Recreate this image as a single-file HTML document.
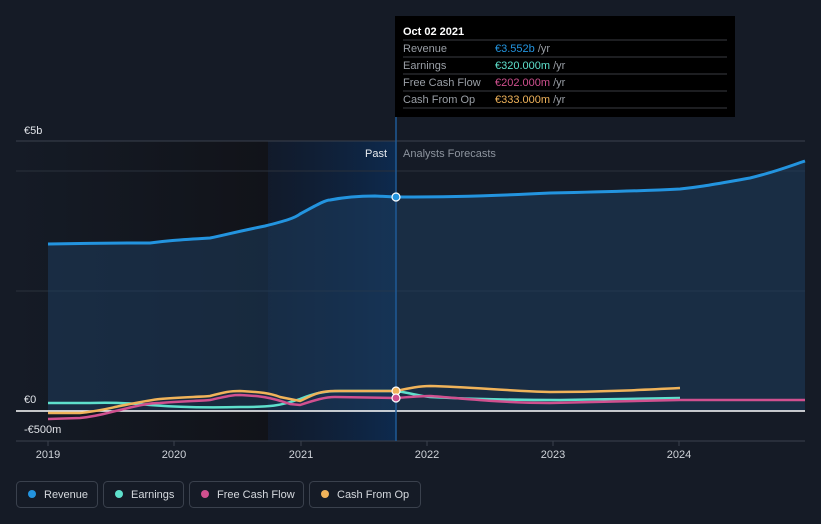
<!DOCTYPE html>
<html><head><meta charset="utf-8"><style>
body{margin:0;background:#151b26;}
svg{display:block;font-family:"Liberation Sans",sans-serif;}
</style></head><body>
<svg width="821" height="524" viewBox="0 0 821 524">
<defs>
<linearGradient id="pastbg" x1="0" x2="1" y1="0" y2="0">
<stop offset="0" stop-color="#0f1a2e" stop-opacity="0.6"/><stop offset="1" stop-color="#0d2a4e"/>
</linearGradient>
<linearGradient id="dark" x1="0" x2="1"><stop offset="0" stop-color="#151b26"/><stop offset="1" stop-color="#111319"/></linearGradient>
</defs>
<rect width="821" height="524" fill="#151b26"/>
<rect x="16" y="141" width="252" height="300" fill="url(#dark)"/>
<rect x="268" y="141" width="128" height="300" fill="url(#pastbg)"/>
<line x1="16" y1="141" x2="805" y2="141" stroke="#3a414d"/>
<line x1="16" y1="171" x2="805" y2="171" stroke="#2a313c"/>
<line x1="16" y1="291" x2="805" y2="291" stroke="#2a313c"/>
<line x1="16" y1="441" x2="805" y2="441" stroke="#3a414d"/>
<!-- revenue area -->
<path d="M48,244 C100,243 140,243 150,243 C165,241 175,240 210,238 C225,235 235,232 265,226 C285,221 295,218 300,214 C315,206 325,200 330,200 C345,197 360,196 375,196 L396,197 C430,197 470,197 550,193 C600,192 640,191 680,189 C700,187 710,185 750,178 C775,172 790,166 805,161 L805,411 L48,411 Z" fill="#1d3d5c" fill-opacity="0.55"/>
<path d="M48,244 C100,243 140,243 150,243 C165,241 175,240 210,238 C225,235 235,232 265,226 C285,221 295,218 300,214 C315,206 325,200 330,200 C345,197 360,196 375,196 L396,197 C430,197 470,197 550,193 C600,192 640,191 680,189 C700,187 710,185 750,178 C775,172 790,166 805,161" fill="none" stroke="#2394df" stroke-width="3"/>
<line x1="16" y1="411" x2="805" y2="411" stroke="#ffffff" stroke-width="1.5"/>
<!-- earnings -->
<path d="M48,403 L90,403 C120,402 140,404 150,405 C175,407 200,408 240,407 C270,407 280,406 300,399 C315,393 325,391 340,391 L396,391 C410,393 420,396 430,397 C470,399 520,400 560,400 L680,398" fill="none" stroke="#5ee0cc" stroke-width="2.5"/>
<!-- fcf -->
<path d="M48,419 L80,418 C100,416 110,412 120,410 C140,405 150,403 160,403 C180,401 200,401 210,400 C225,397 230,395 240,395 C260,396 270,397 290,404 L300,405 C315,400 325,397 335,397 L396,398 C410,397 420,396 430,396 C460,398 500,403 550,403 C600,402 640,401 680,400 L805,400" fill="none" stroke="#d0508f" stroke-width="2.5"/>
<!-- cfo -->
<path d="M48,413 L80,413 C100,411 110,408 120,406 C140,402 150,400 160,399 C180,397 200,397 210,396 C225,392 230,391 240,391 C260,392 270,393 280,397 L300,401 C315,394 320,391 335,391 L396,391 C410,388 420,386 430,386 C470,387 510,391 550,392 C600,392 640,390 680,388" fill="none" stroke="#f0b35a" stroke-width="2.5"/>
<line x1="396" y1="116" x2="396" y2="441" stroke="#1f5a96" stroke-width="1.5"/>
<circle cx="396" cy="197" r="4" fill="#2394df" stroke="#fff" stroke-width="1.2"/>
<circle cx="396" cy="391" r="4" fill="#f0b35a" stroke="#fff" stroke-width="1.2"/>
<circle cx="396" cy="398" r="4" fill="#d0508f" stroke="#fff" stroke-width="1.2"/>
<text x="24" y="134" fill="#e0e3e8" font-size="11">€5b</text>
<text x="24" y="403" fill="#e0e3e8" font-size="11">€0</text>
<text x="24" y="433" fill="#e0e3e8" font-size="11">-€500m</text>
<text x="387" y="157" fill="#e8ebef" font-size="11" text-anchor="end">Past</text>
<text x="403" y="157" fill="#8d949e" font-size="11">Analysts Forecasts</text>
<g fill="#cfd3d9" font-size="11" text-anchor="middle">
<text x="48" y="458">2019</text><text x="174" y="458">2020</text><text x="301" y="458">2021</text><text x="427" y="458">2022</text><text x="553" y="458">2023</text><text x="679" y="458">2024</text>
</g>
<g stroke="#3a414d"><line x1="48" y1="441" x2="48" y2="446"/><line x1="174" y1="441" x2="174" y2="446"/><line x1="301" y1="441" x2="301" y2="446"/><line x1="427" y1="441" x2="427" y2="446"/><line x1="553" y1="441" x2="553" y2="446"/><line x1="679" y1="441" x2="679" y2="446"/></g>
<!-- tooltip -->
<rect x="395" y="16" width="340" height="101" fill="#000"/>
<text x="403" y="35" fill="#fff" font-size="11" font-weight="bold">Oct 02 2021</text>
<g stroke="#3a3d42"><line x1="403" y1="40" x2="727" y2="40"/><line x1="403" y1="57" x2="727" y2="57"/><line x1="403" y1="74" x2="727" y2="74"/><line x1="403" y1="91" x2="727" y2="91"/><line x1="403" y1="108" x2="727" y2="108"/></g>
<g font-size="11" fill="#9a9fa6">
<text x="403" y="52">Revenue</text><text x="403" y="69">Earnings</text><text x="403" y="86">Free Cash Flow</text><text x="403" y="103">Cash From Op</text>
<text x="495" y="52"><tspan fill="#2394df">€3.552b</tspan> /yr</text>
<text x="495" y="69"><tspan fill="#5ee0cc">€320.000m</tspan> /yr</text>
<text x="495" y="86"><tspan fill="#d0508f">€202.000m</tspan> /yr</text>
<text x="495" y="103"><tspan fill="#f0b35a">€333.000m</tspan> /yr</text>
</g>
<!-- legend -->
<g font-size="11" fill="#d5d9de" stroke-width="1">
<rect x="16.5" y="481.5" width="81" height="26" rx="4" fill="none" stroke="#3a414d"/>
<circle cx="32" cy="494" r="4" fill="#2394df"/><text x="44" y="498">Revenue</text>
<rect x="103.5" y="481.5" width="80" height="26" rx="4" fill="none" stroke="#3a414d"/>
<circle cx="119" cy="494" r="4" fill="#5ee0cc"/><text x="131" y="498">Earnings</text>
<rect x="189.5" y="481.5" width="114" height="26" rx="4" fill="none" stroke="#3a414d"/>
<circle cx="205" cy="494" r="4" fill="#d0508f"/><text x="217" y="498">Free Cash Flow</text>
<rect x="309.5" y="481.5" width="111" height="26" rx="4" fill="none" stroke="#3a414d"/>
<circle cx="325" cy="494" r="4" fill="#f0b35a"/><text x="337" y="498">Cash From Op</text>
</g>
</svg>
</body></html>
